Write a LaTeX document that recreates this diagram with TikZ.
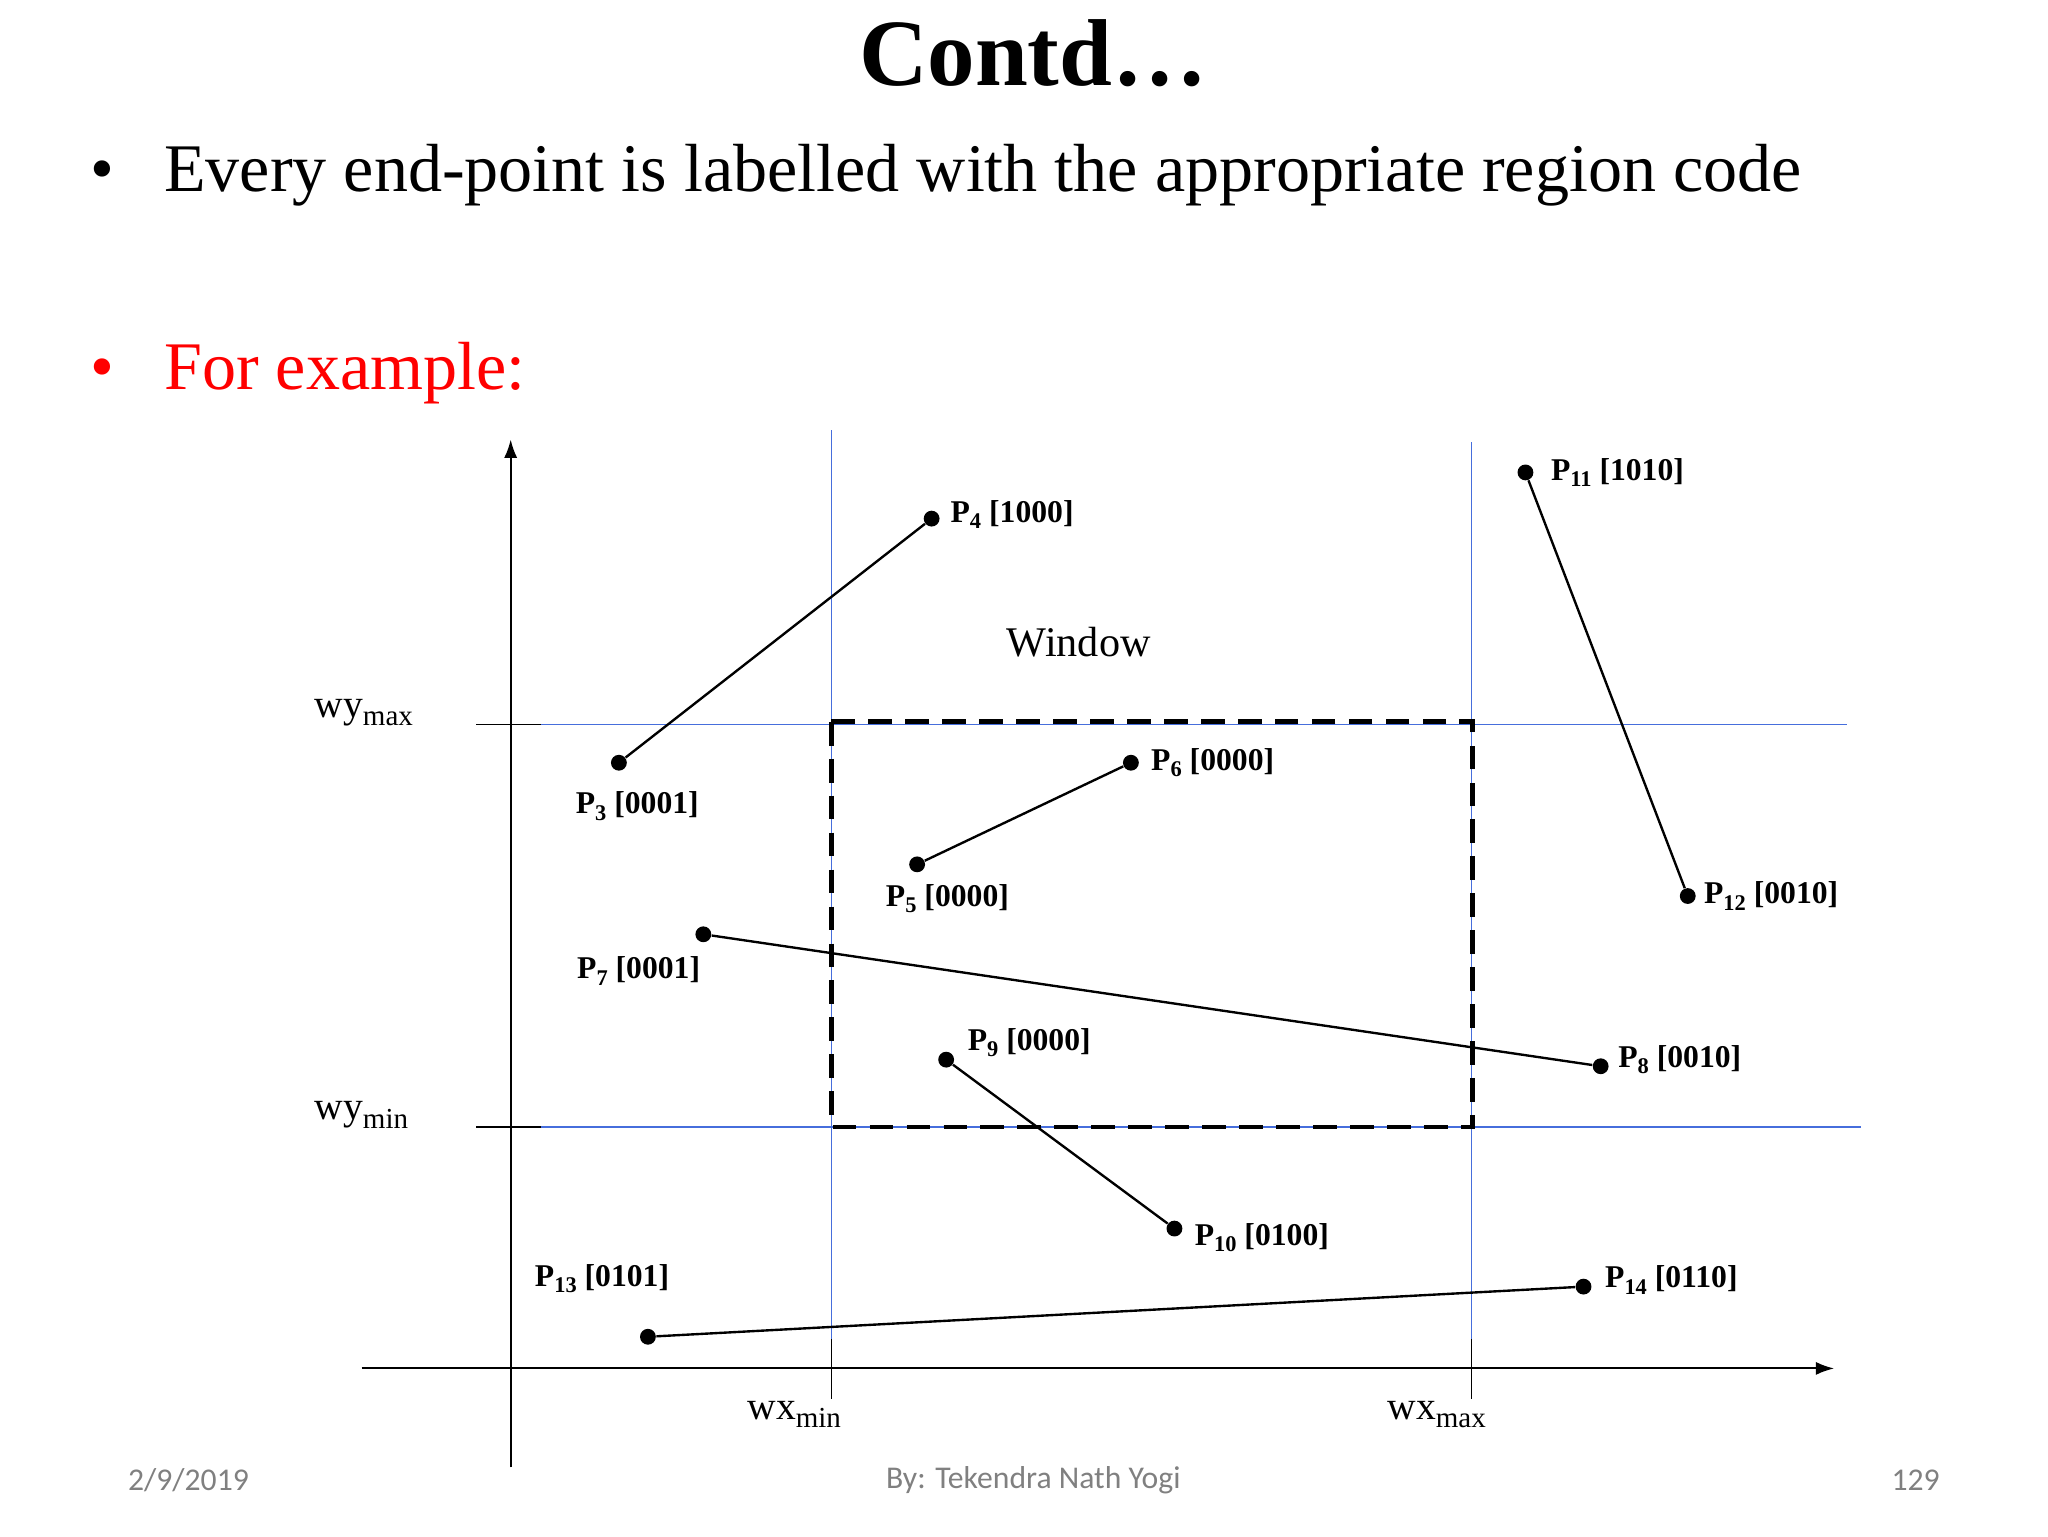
\documentclass[tikz,border=0pt]{standalone}
\usepackage{fontspec}
\setmainfont{Liberation Serif}
\newfontfamily\footfont{Carlito}
\usetikzlibrary{arrows.meta}
\definecolor{wblue}{RGB}{70,110,220}
\newcommand{\sub}[1]{\raisebox{-0.45ex}{\fontsize{8.5}{9}\selectfont #1}}
\newcommand{\Plab}[2]{\textbf{P\sub{#1} [#2]}}
\begin{document}
\begin{tikzpicture}[x=0.5pt,y=-0.5pt,
  pt/.style={circle,fill=black,inner sep=0pt,minimum size=6pt},
  lab/.style={anchor=west,inner sep=0pt,font=\fontsize{12}{14}\selectfont},
  blueline/.style={draw=wblue,line width=0.6pt},
  seg/.style={line width=0.9pt},
  axlbl/.style={inner sep=0pt,font=\fontsize{15}{17}\selectfont}]
\useasboundingbox (0,0) rectangle (1552,1164);
\node[font=\bfseries\fontsize{36}{40}\selectfont] (title) at (783,40) {Contd\ldots};
\node[anchor=west,inner sep=0pt,font=\fontsize{25.8}{28}\selectfont] (b1) at (68,133) {\textbullet\hspace{19pt}Every end-point is labelled with the appropriate region code};
\node[anchor=west,inner sep=0pt,text=red,font=\fontsize{25.8}{28}\selectfont] (b2) at (68,283) {\textbullet\hspace{19pt}For example:};
% axes
\coordinate (ya) at (387,1112); \coordinate (yb) at (387,333);
\coordinate (xa) at (274,1037); \coordinate (xb) at (1390,1037);
\draw[line width=0.8pt,-{Latex[length=7pt,width=5pt]}] (ya) -- (yb);
\draw[line width=0.8pt,-{Latex[length=7pt,width=5pt]}] (xa) -- (xb);
% blue lines
\coordinate (v1a) at (630,326); \coordinate (v1b) at (630,1015); \coordinate (v1c) at (630,1060);
\coordinate (v2a) at (1115,335); \coordinate (v2b) at (1115,1015); \coordinate (v2c) at (1115,1060);
\coordinate (h1a) at (361,549); \coordinate (h1b) at (410,549); \coordinate (h1c) at (1400,549);
\coordinate (h2a) at (361,854); \coordinate (h2b) at (410,854); \coordinate (h2c) at (1410,854);
\draw[blueline] (v1a) -- (v1b); \draw[blueline] (v2a) -- (v2b);
\draw[blueline] (h1b) -- (h1c); \draw[blueline] (h2b) -- (h2c);
\draw[line width=0.6pt] (v1b) -- (v1c); \draw[line width=0.6pt] (v2b) -- (v2c);
\draw[line width=0.6pt] (h1a) -- (h1b); \draw[line width=0.6pt] (h2a) -- (h2b);
% window
\coordinate (w1) at (630,547); \coordinate (w2) at (1116,854);
\draw[line width=1.8pt,dash pattern=on 9pt off 5pt] (w1) rectangle (w2);
\node[anchor=west,font=\fontsize{16}{18}\selectfont] (win) at (756,487) {Window};
% axis labels
\node[axlbl,anchor=west] (wymax) at (238,540) {wy\sub{\fontsize{11}{12}\selectfont max}};
\node[axlbl,anchor=west] (wymin) at (238,845) {wy\sub{\fontsize{11}{12}\selectfont min}};
\node[axlbl,anchor=west] (wxmin) at (566,1072) {wx\sub{\fontsize{11}{12}\selectfont min}};
\node[axlbl,anchor=west] (wxmax) at (1051,1072) {wx\sub{\fontsize{11}{12}\selectfont max}};
% points
\node[pt] (p3) at (469,578) {}; \node[pt] (p4) at (706,393) {};
\node[pt] (p5) at (695,655) {}; \node[pt] (p6) at (857,578) {};
\node[pt] (p7) at (533,708) {}; \node[pt] (p8) at (1213,808) {};
\node[pt] (p9) at (717,803) {}; \node[pt] (p10) at (890,931) {};
\node[pt] (p11) at (1156,358) {}; \node[pt] (p12) at (1279,679) {};
\node[pt] (p13) at (491,1013) {}; \node[pt] (p14) at (1200,975) {};
\draw[seg] (p3) -- (p4); \draw[seg] (p5) -- (p6); \draw[seg] (p7) -- (p8);
\draw[seg] (p9) -- (p10); \draw[seg] (p11) -- (p12); \draw[seg] (p13) -- (p14);
\node[lab] (l3) at (436,611) {\Plab{3}{0001}};
\node[lab] (l4) at (720,390) {\Plab{4}{1000}};
\node[lab] (l5) at (671,681) {\Plab{5}{0000}};
\node[lab] (l6) at (872,578) {\Plab{6}{0000}};
\node[lab] (l7) at (437,736) {\Plab{7}{0001}};
\node[lab] (l8) at (1226,803) {\Plab{8}{0010}};
\node[lab] (l9) at (733,790) {\Plab{9}{0000}};
\node[lab] (l10) at (905,938) {\Plab{10}{0100}};
\node[lab] (l11) at (1175,358) {\Plab{11}{1010}};
\node[lab] (l12) at (1291,679) {\Plab{12}{0010}};
\node[lab] (l13) at (405,969) {\Plab{13}{0101}};
\node[lab] (l14) at (1216,970) {\Plab{14}{0110}};
% footer
\node[anchor=west,text=gray,font=\footfont\fontsize{12}{14}\selectfont] (f1) at (90,1122) {2/9/2019};
\node[text=gray,font=\footfont\fontsize{12}{14}\selectfont] (f2) at (783,1122) {By: Tekendra Nath Yogi};
\node[anchor=east,text=gray,font=\footfont\fontsize{12}{14}\selectfont] (f3) at (1477,1122) {129};
\end{tikzpicture}
\end{document}
